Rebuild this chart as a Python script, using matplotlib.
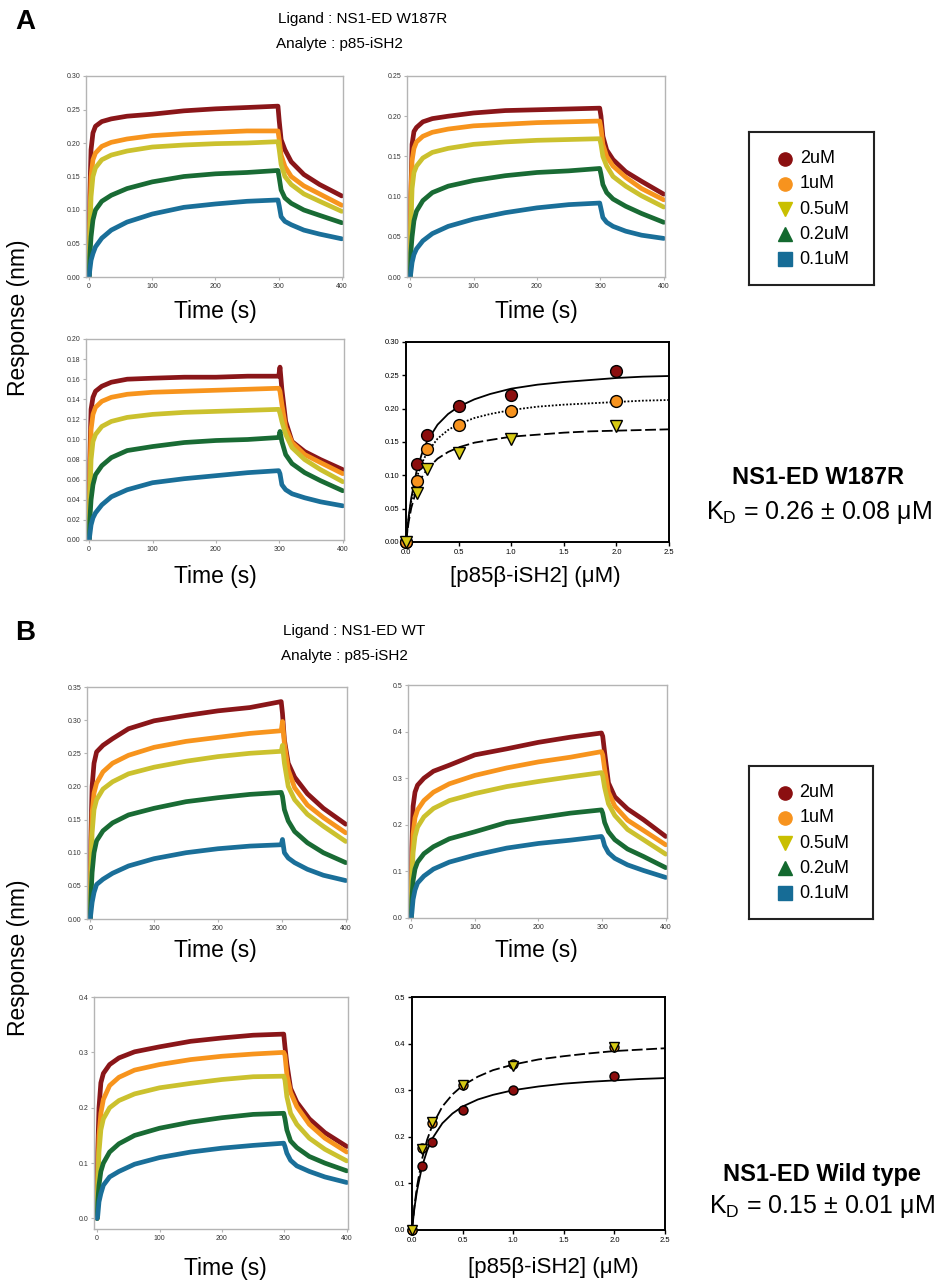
import matplotlib
matplotlib.use('Agg')
import matplotlib.pyplot as plt
import numpy as np

plt.rcParams['font.family'] = ['Liberation Sans', 'DejaVu Sans']
plt.rcParams['mathtext.fontset'] = 'custom'
plt.rcParams['mathtext.rm'] = 'Liberation Sans'

W, H = 946, 1284

# --- data ---
conc_labels = ['2uM', '1uM', '0.5uM', '0.2uM', '0.1uM']
trace_colors = ['#8a1619', '#f7941d', '#cbc12e', '#196b34', '#1a6f99']
legend_markers = ['o', 'o', 'v', '^', 's']
legend_colors = ['#8b0f10', '#f7931e', '#c9bf00', '#13692f', '#166c96']

# time points of the sensorgrams (s)
t_s = [0, 1, 3, 6, 10, 20, 35, 60, 100, 150, 200, 250, 299, 301, 304, 310, 320, 340, 365, 400]

# A, W187R, top left (rows: 2, 1, 0.5, 0.2, 0.1 uM)
a_tl = [
    [0, 0.12, 0.19, 0.215, 0.225, 0.232, 0.236, 0.240, 0.243, 0.248, 0.251, 0.253, 0.255, 0.233, 0.205, 0.190, 0.172, 0.153, 0.138, 0.121],
    [0, 0.08, 0.15, 0.175, 0.185, 0.195, 0.201, 0.206, 0.211, 0.214, 0.216, 0.218, 0.218, 0.205, 0.182, 0.165, 0.150, 0.136, 0.124, 0.107],
    [0, 0.06, 0.12, 0.150, 0.163, 0.175, 0.182, 0.188, 0.194, 0.197, 0.199, 0.200, 0.202, 0.190, 0.168, 0.150, 0.138, 0.124, 0.113, 0.098],
    [0, 0.03, 0.06, 0.085, 0.100, 0.113, 0.122, 0.132, 0.142, 0.150, 0.154, 0.156, 0.159, 0.148, 0.130, 0.118, 0.110, 0.100, 0.092, 0.081],
    [0, 0.01, 0.025, 0.035, 0.045, 0.058, 0.070, 0.082, 0.094, 0.104, 0.109, 0.113, 0.115, 0.106, 0.090, 0.083, 0.078, 0.070, 0.064, 0.057],
]
# A, top right
a_tr = [
    [0, 0.10, 0.165, 0.181, 0.186, 0.193, 0.197, 0.200, 0.204, 0.207, 0.208, 0.209, 0.210, 0.200, 0.175, 0.158, 0.146, 0.131, 0.119, 0.103],
    [0, 0.10, 0.145, 0.160, 0.168, 0.175, 0.180, 0.184, 0.188, 0.190, 0.192, 0.193, 0.194, 0.185, 0.165, 0.150, 0.138, 0.124, 0.110, 0.096],
    [0, 0.06, 0.110, 0.130, 0.138, 0.148, 0.155, 0.160, 0.165, 0.168, 0.170, 0.171, 0.172, 0.165, 0.150, 0.138, 0.125, 0.113, 0.101, 0.087],
    [0, 0.03, 0.050, 0.070, 0.082, 0.095, 0.105, 0.113, 0.120, 0.126, 0.130, 0.132, 0.135, 0.128, 0.115, 0.105, 0.097, 0.088, 0.079, 0.068],
    [0, 0.005, 0.018, 0.028, 0.035, 0.045, 0.054, 0.063, 0.072, 0.080, 0.086, 0.090, 0.092, 0.085, 0.074, 0.068, 0.063, 0.057, 0.052, 0.048],
]
# A, bottom left
a_bl = [
    [0, 0.08, 0.13, 0.142, 0.148, 0.153, 0.157, 0.160, 0.161, 0.162, 0.162, 0.163, 0.163, 0.172, 0.150, 0.118, 0.098, 0.088, 0.080, 0.070],
    [0, 0.06, 0.11, 0.125, 0.132, 0.138, 0.142, 0.145, 0.147, 0.148, 0.149, 0.150, 0.151, 0.148, 0.135, 0.112, 0.097, 0.085, 0.077, 0.066],
    [0, 0.04, 0.08, 0.098, 0.105, 0.113, 0.118, 0.122, 0.125, 0.127, 0.128, 0.129, 0.130, 0.126, 0.118, 0.105, 0.092, 0.080, 0.070, 0.058],
    [0, 0.02, 0.04, 0.055, 0.065, 0.074, 0.082, 0.089, 0.093, 0.097, 0.099, 0.100, 0.102, 0.108, 0.098, 0.085, 0.076, 0.067, 0.059, 0.049],
    [0, 0.005, 0.015, 0.022, 0.027, 0.035, 0.043, 0.050, 0.057, 0.061, 0.064, 0.067, 0.069, 0.066, 0.055, 0.050, 0.046, 0.042, 0.038, 0.034],
]
# B, WT, top left
b_tl = [
    [0, 0.12, 0.20, 0.235, 0.252, 0.262, 0.272, 0.287, 0.299, 0.307, 0.314, 0.319, 0.328, 0.310, 0.270, 0.235, 0.214, 0.189, 0.167, 0.143],
    [0, 0.08, 0.16, 0.190, 0.205, 0.222, 0.235, 0.247, 0.259, 0.268, 0.274, 0.280, 0.284, 0.298, 0.265, 0.225, 0.198, 0.172, 0.153, 0.130],
    [0, 0.06, 0.13, 0.165, 0.180, 0.196, 0.207, 0.219, 0.229, 0.238, 0.245, 0.250, 0.253, 0.262, 0.235, 0.200, 0.180, 0.158, 0.140, 0.117],
    [0, 0.03, 0.07, 0.100, 0.118, 0.133, 0.145, 0.157, 0.167, 0.177, 0.183, 0.188, 0.191, 0.185, 0.165, 0.148, 0.132, 0.115, 0.100, 0.085],
    [0, 0.008, 0.025, 0.040, 0.052, 0.060, 0.069, 0.080, 0.091, 0.100, 0.106, 0.110, 0.112, 0.120, 0.100, 0.092, 0.085, 0.075, 0.066, 0.058],
]
# B, top right
b_tr = [
    [0, 0.15, 0.24, 0.270, 0.285, 0.300, 0.315, 0.328, 0.350, 0.363, 0.377, 0.388, 0.397, 0.390, 0.355, 0.290, 0.260, 0.234, 0.211, 0.175],
    [0, 0.10, 0.18, 0.215, 0.232, 0.252, 0.270, 0.288, 0.306, 0.322, 0.335, 0.345, 0.357, 0.350, 0.320, 0.270, 0.240, 0.210, 0.188, 0.157],
    [0, 0.08, 0.14, 0.175, 0.195, 0.217, 0.235, 0.252, 0.267, 0.282, 0.293, 0.303, 0.312, 0.305, 0.280, 0.245, 0.220, 0.190, 0.168, 0.137],
    [0, 0.04, 0.08, 0.105, 0.120, 0.138, 0.153, 0.170, 0.185, 0.205, 0.215, 0.225, 0.232, 0.225, 0.205, 0.185, 0.168, 0.148, 0.132, 0.108],
    [0, 0.01, 0.04, 0.060, 0.075, 0.090, 0.105, 0.120, 0.135, 0.150, 0.160, 0.167, 0.175, 0.170, 0.155, 0.140, 0.128, 0.114, 0.102, 0.087],
]
# B, bottom left
b_bl = [
    [0, 0.12, 0.20, 0.245, 0.262, 0.278, 0.290, 0.301, 0.310, 0.320, 0.326, 0.331, 0.333, 0.310, 0.280, 0.235, 0.210, 0.180, 0.155, 0.130],
    [0, 0.07, 0.15, 0.190, 0.215, 0.240, 0.255, 0.268, 0.278, 0.287, 0.293, 0.297, 0.300, 0.295, 0.260, 0.228, 0.202, 0.170, 0.145, 0.120],
    [0, 0.05, 0.12, 0.160, 0.180, 0.200, 0.213, 0.225, 0.236, 0.244, 0.251, 0.256, 0.257, 0.250, 0.220, 0.190, 0.170, 0.145, 0.125, 0.104],
    [0, 0.03, 0.06, 0.085, 0.100, 0.120, 0.135, 0.150, 0.163, 0.174, 0.182, 0.188, 0.190, 0.180, 0.160, 0.140, 0.128, 0.112, 0.100, 0.086],
    [0, 0.005, 0.03, 0.045, 0.060, 0.075, 0.085, 0.098, 0.110, 0.120, 0.127, 0.132, 0.136, 0.130, 0.118, 0.105, 0.095, 0.085, 0.075, 0.065],
]

# steady-state binding (uM vs nm)
conc_um = [0, 0.1, 0.2, 0.5, 1.0, 2.0]
a_eq_2uM = [0, 0.117, 0.160, 0.204, 0.220, 0.256]
a_eq_1uM = [0, 0.091, 0.139, 0.176, 0.197, 0.212]
a_eq_05uM = [0, 0.073, 0.109, 0.133, 0.155, 0.174]
b_eq_2uM = [0, 0.138, 0.188, 0.257, 0.300, 0.331]
b_eq_1uM = [0, 0.177, 0.229, 0.312, 0.356, 0.392]
b_eq_05uM = [0, 0.174, 0.231, 0.311, 0.353, 0.393]

# fitted curves, read at these concentrations
fit_x = [0, 0.025, 0.05, 0.1, 0.15, 0.2, 0.3, 0.4, 0.5, 0.65, 0.8, 1.0, 1.25, 1.5, 1.75, 2.0, 2.25, 2.5]
a_fit_solid = [0, 0.038, 0.066, 0.106, 0.132, 0.151, 0.176, 0.192, 0.203, 0.214, 0.222, 0.230, 0.236, 0.240, 0.243, 0.246, 0.248, 0.249]
a_fit_dot = [0, 0.035, 0.061, 0.096, 0.118, 0.134, 0.155, 0.168, 0.177, 0.186, 0.192, 0.198, 0.203, 0.206, 0.208, 0.210, 0.212, 0.213]
a_fit_dash = [0, 0.030, 0.051, 0.079, 0.097, 0.109, 0.125, 0.135, 0.142, 0.149, 0.153, 0.158, 0.161, 0.164, 0.166, 0.167, 0.168, 0.169]
b_fit_solid = [0, 0.049, 0.085, 0.137, 0.171, 0.196, 0.229, 0.250, 0.265, 0.280, 0.290, 0.300, 0.308, 0.314, 0.318, 0.321, 0.324, 0.326]
b_fit_dash = [0, 0.053, 0.094, 0.153, 0.194, 0.224, 0.265, 0.291, 0.310, 0.329, 0.343, 0.355, 0.366, 0.373, 0.379, 0.384, 0.387, 0.390]


def box(x0, y0, x1, y1):
    return [x0 / W, 1 - y1 / H, (x1 - x0) / W, (y1 - y0) / H]


def fxy(x, y):
    return x / W, 1 - y / H


fig = plt.figure(figsize=(W / 100, H / 100), dpi=100)


def sensorgram(b, rows, yticks, fmt, ymin=0.0):
    ax = fig.add_axes(box(*b))
    for vals, c in zip(rows, trace_colors):
        ax.plot(t_s, vals, color=c, lw=3.4, solid_joinstyle='round', solid_capstyle='round')
    ax.set_xlim(-5, 402)
    ax.set_ylim(ymin, yticks[-1])
    ax.set_xticks([0, 100, 200, 300, 400])
    ax.set_yticks(yticks)
    ax.set_yticklabels([fmt % v for v in yticks])
    for s in ax.spines.values():
        s.set_color('#b4b4b4')
        s.set_linewidth(1.0)
    ax.tick_params(labelsize=5, colors='#b4b4b4', labelcolor='#333333', length=2, width=0.8, pad=2)
    return ax


def binding(b, pts, fits, yticks, fmt, ms):
    ax = fig.add_axes(box(*b))
    for fx, fy, ls in fits:
        ax.plot(fx, fy, color='black', lw=1.3, ls=ls, zorder=2)
    for vals, m, c in pts:
        ax.plot(conc_um, vals, ls='none', marker=m, ms=ms, mfc=c, mec='black', mew=1.0, zorder=3)
    ax.set_xlim(0, 2.5)
    ax.set_ylim(0, yticks[-1])
    ax.set_xticks([0, 0.5, 1.0, 1.5, 2.0, 2.5])
    ax.set_xticklabels(['0.0', '0.5', '1.0', '1.5', '2.0', '2.5'])
    ax.set_yticks(yticks)
    ax.set_yticklabels([fmt % v for v in yticks])
    for s in ax.spines.values():
        s.set_color('black')
        s.set_linewidth(1.4)
    ax.tick_params(labelsize=5.5, length=3, width=1.0, pad=2)
    for ln in ax.lines:
        ln.set_clip_on(False)
    return ax


def legend_box(b):
    ax = fig.add_axes(box(*b))
    ax.set_xlim(0, 1)
    ax.set_ylim(0, 1)
    ax.set_xticks([])
    ax.set_yticks([])
    for s in ax.spines.values():
        s.set_color('#222222')
        s.set_linewidth(1.5)
    ys = np.linspace(0.825, 0.168, 5)
    for yy, lab, m, c in zip(ys, conc_labels, legend_markers, legend_colors):
        ax.plot([0.29], [yy], marker=m, ms=9.5, color=c, mec=c, ls='none')
        ax.text(0.405, yy, lab, fontsize=13, va='center', ha='left')


# ---------------- panel A ----------------
fig.text(*fxy(25, 22), 'A', fontsize=20, fontweight='bold', ha='center', va='center')
fig.text(*fxy(278, 19), 'Ligand : NS1-ED W187R', fontsize=11, ha='left', va='center')
fig.text(*fxy(276, 44), 'Analyte : p85-iSH2', fontsize=11, ha='left', va='center')

ya = [0.0, 0.05, 0.10, 0.15, 0.20, 0.25, 0.30]
sensorgram((86, 76, 343, 277), a_tl, ya, '%.2f')
sensorgram((407, 76, 665, 277), a_tr, [0.0, 0.05, 0.10, 0.15, 0.20, 0.25], '%.2f')
sensorgram((86, 339, 344, 540), a_bl, [0.0, 0.02, 0.04, 0.06, 0.08, 0.10, 0.12, 0.14, 0.16, 0.18, 0.20], '%.2f')
binding((406, 342, 669, 542),
        [(a_eq_2uM, 'o', '#8b0e0e'), (a_eq_1uM, 'o', '#f7931e'), (a_eq_05uM, 'v', '#d6c914')],
        [(fit_x, a_fit_solid, '-'), (fit_x, a_fit_dot, (0, (1, 1))), (fit_x, a_fit_dash, (0, (6, 2)))],
        ya, '%.2f', 8.5)

fig.text(*fxy(215, 311), 'Time (s)', fontsize=16.5, ha='center', va='center')
fig.text(*fxy(536, 311), 'Time (s)', fontsize=16.5, ha='center', va='center')
fig.text(*fxy(215, 576), 'Time (s)', fontsize=16.5, ha='center', va='center')
fig.text(*fxy(535, 576), '[p85\u03b2-iSH2] (\u03bcM)', fontsize=16, ha='center', va='center')
fig.text(*fxy(19, 318), 'Response (nm)', fontsize=16.5, rotation=90, ha='center', va='center')

legend_box((749, 132, 874, 285))
fig.text(*fxy(818, 477), 'NS1-ED W187R', fontsize=17, fontweight='bold', ha='center', va='center')
fig.text(*fxy(819, 512), 'K$_\\mathrm{D}$ = 0.26 \u00b1 0.08 \u03bcM', fontsize=18, ha='center', va='center')

# ---------------- panel B ----------------
fig.text(*fxy(25, 633), 'B', fontsize=20, fontweight='bold', ha='center', va='center')
fig.text(*fxy(283, 631), 'Ligand : NS1-ED WT', fontsize=11, ha='left', va='center')
fig.text(*fxy(281, 656), 'Analyte : p85-iSH2', fontsize=11, ha='left', va='center')

sensorgram((87, 687, 347, 919), b_tl, [0.0, 0.05, 0.10, 0.15, 0.20, 0.25, 0.30, 0.35], '%.2f')
sensorgram((408, 685, 667, 918), b_tr, [0.0, 0.1, 0.2, 0.3, 0.4, 0.5], '%.1f')
sensorgram((94, 997, 348, 1229), b_bl, [0.0, 0.1, 0.2, 0.3, 0.4], '%.1f', ymin=-0.019)
binding((412, 997, 665, 1230),
        [(b_eq_2uM, 'o', '#8b0e0e'), (b_eq_1uM, 'o', '#f7931e'), (b_eq_05uM, 'v', '#d6c914')],
        [(fit_x, b_fit_solid, '-'), (fit_x, b_fit_dash, (0, (6, 2)))],
        [0.0, 0.1, 0.2, 0.3, 0.4, 0.5], '%.1f', 6.5)

fig.text(*fxy(215, 950), 'Time (s)', fontsize=16.5, ha='center', va='center')
fig.text(*fxy(536, 950), 'Time (s)', fontsize=16.5, ha='center', va='center')
fig.text(*fxy(225, 1269), 'Time (s)', fontsize=16.5, ha='center', va='center')
fig.text(*fxy(553, 1267), '[p85\u03b2-iSH2] (\u03bcM)', fontsize=16, ha='center', va='center')
fig.text(*fxy(19, 958), 'Response (nm)', fontsize=16.5, rotation=90, ha='center', va='center')

legend_box((749, 766, 873, 919))
fig.text(*fxy(822, 1174), 'NS1-ED Wild type', fontsize=17, fontweight='bold', ha='center', va='center')
fig.text(*fxy(822, 1207), 'K$_\\mathrm{D}$ = 0.15 \u00b1 0.01 \u03bcM', fontsize=18, ha='center', va='center')

fig.savefig('out.png', dpi=100)
